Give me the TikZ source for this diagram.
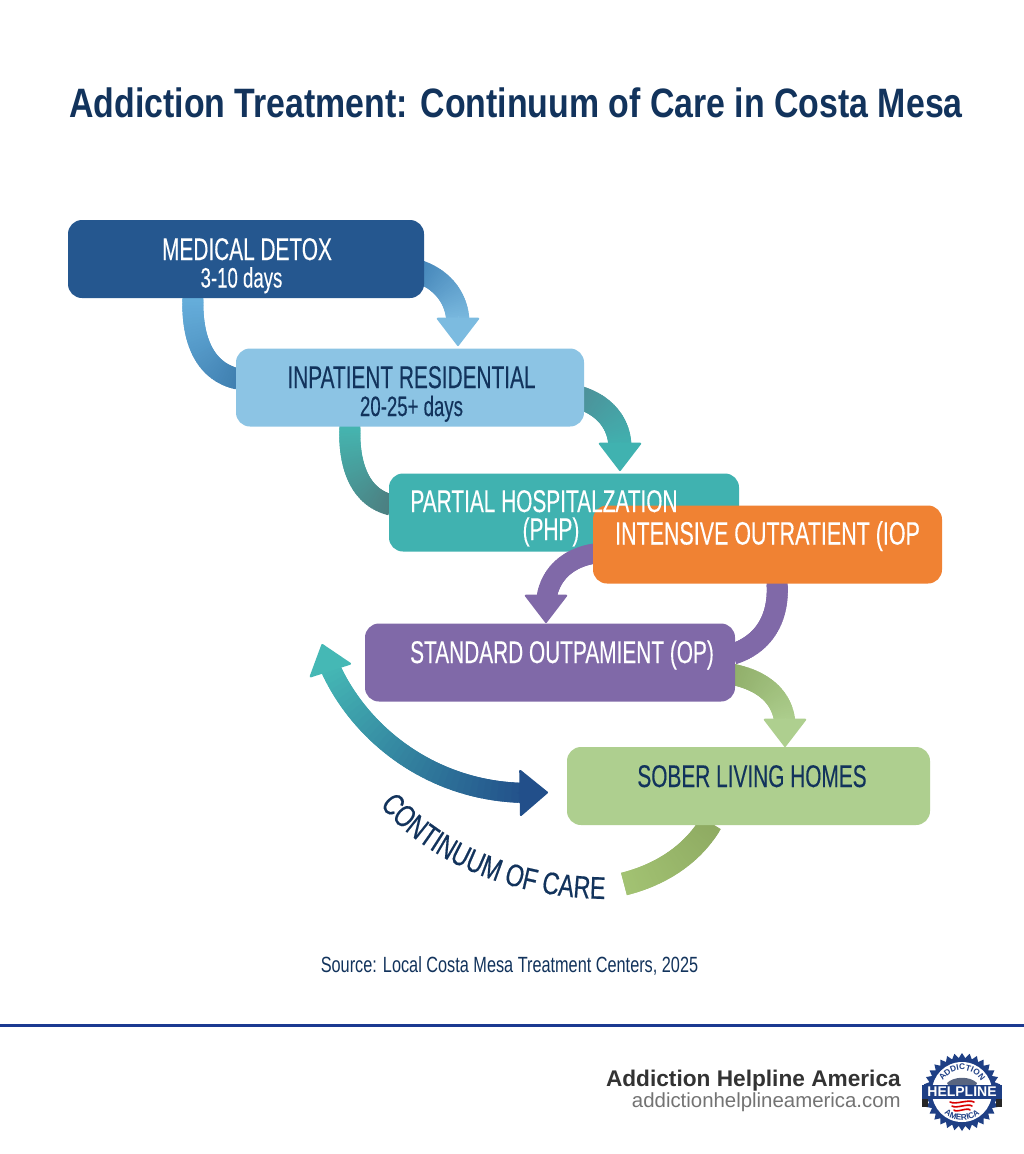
\documentclass[tikz,border=0pt]{standalone}
\usepackage{fontspec}
\usetikzlibrary{calc,arrows.meta,decorations.text}
\setmainfont{Liberation Sans}
\newfontfamily\cond[FakeStretch=0.665,FakeBold=0.25]{Liberation Sans}
\newfontfamily\srcf[FakeStretch=0.74]{Liberation Sans}
\newfontfamily\capf[FakeStretch=0.74,FakeBold=0.5]{Liberation Sans}
\newfontfamily\titlef[FakeStretch=0.825]{Liberation Sans}
\definecolor{navy}{HTML}{12335C}
\definecolor{cdetox}{HTML}{25578F}
\definecolor{cinpat}{HTML}{8CC4E4}
\definecolor{cphp}{HTML}{40B2B0}
\definecolor{ciop}{HTML}{F08233}
\definecolor{cop}{HTML}{8069A8}
\definecolor{csober}{HTML}{AECF8F}
\definecolor{logob}{HTML}{1E3F85}
\definecolor{ra}{HTML}{4384B8}
\definecolor{rb}{HTML}{7CBBE0}
\definecolor{rc}{HTML}{66AEDB}
\definecolor{rd}{HTML}{3F7FB0}
\definecolor{re}{HTML}{4E8F98}
\definecolor{rf}{HTML}{45B5B0}
\definecolor{rg}{HTML}{4C7E80}
\definecolor{rh}{HTML}{8FAD68}
\definecolor{ri}{HTML}{8FAB62}
\definecolor{rj}{HTML}{A3C373}
\definecolor{rk}{HTML}{45B8B5}
\definecolor{rl}{HTML}{224F8A}
\tikzset{
  x=0.75pt,y=-0.75pt,
  stage/.style={rounded corners=10.5pt,minimum height=58.5pt,inner sep=0pt,minimum width=#1*0.75pt},
  big/.style={anchor=base,inner sep=0pt,font=\cond\fontsize{23.5}{26}\selectfont},
  small/.style={anchor=base,inner sep=0pt,font=\cond\fontsize{21}{24}\selectfont},
}
% \ribbon{start}{c1}{c2}{end}{width}{col1}{col2}: ribbon with a colour run, node to node
\newcommand{\ribbon}[7]{%
  \path (#1) .. controls (#2) and (#3) .. (#4)
    \foreach \k in {0,...,40}{ coordinate[pos=\k/40] (rb\k) };
  \foreach \k [evaluate=\k as \nx using {int(min(\k+2,40))}, evaluate=\k as \pc using {100-\k*2.5}] in {0,...,39}{
    \draw[line width=#5*0.75pt,color=#6!\pc!#7] (rb\k) -- (rb\nx);
  }%
}
\newcommand{\head}[4]{% from, to(tip), width px, colour
  \draw[line width=0.5pt,color=#4,-{Triangle[width=#3*0.75pt,length=29*0.75pt,round,line width=1.5pt]}] (#1) -- (#2);
}
\begin{document}
\begin{tikzpicture}
\useasboundingbox (0,0) rectangle (1024,1154);
\fill[white] (0,0) rectangle (1024,1154);
\node[font=\titlef\bfseries\fontsize{30.8}{33}\selectfont,text=navy] (title) at (516,103) {Addiction Treatment: Continuum of Care in Costa Mesa};

\coordinate (detoxC) at (246,259);
\coordinate (inpatC) at (410,387.5);
\coordinate (phpC) at (564,512.5);
\coordinate (iopC) at (767.5,544.5);
\coordinate (opC) at (550,662.5);
\coordinate (soberC) at (748.5,786);

% connectors behind the boxes
\ribbon{414,270}{440,277}{457,296}{458,322}{23}{ra}{rb}
\head{458,316}{458,346}{44}{rb}
\ribbon{193,296}{191,340}{205,372}{238,379}{21}{rc}{rd}
\ribbon{574,396}{600,402}{620,420}{620,448}{23}{re}{cphp}
\head{620,442}{620,471}{44}{cphp}
\ribbon{350,425}{348,462}{358,497}{391,505}{21}{rf}{rg}
\ribbon{725,673}{760,678}{783,695}{785,724}{21}{rh}{csober}
\head{785,718}{785,747}{44}{csober}
\ribbon{711,823}{692,855}{660,875}{624,884}{23}{ri}{rj}

\node[stage=356,fill=cdetox] (detox) at (detoxC) {};
\node[stage=348,fill=cinpat] (inpat) at (inpatC) {};
\node[stage=350,fill=cphp] (php) at (phpC) {};
\ribbon{600,553}{572,555}{548,572}{546,603}{20}{cop}{cop}
\head{546,597}{546,623}{44}{cop}
\ribbon{777,582}{780,620}{762,645}{733,654}{21}{cop}{cop}
\node[stage=349,fill=ciop] (iop) at (iopC) {};
\node[stage=370,fill=cop] (op) at (opC) {};
\node[stage=363,fill=csober] (sober) at (soberC) {};

\node[big,text=white] (t1) at (247,260) {MEDICAL DETOX};
\node[small,text=white] (t1b) at (241.5,287.5) {3-10 days};
\node[big,text=navy] (t2) at (411.5,388) {INPATIENT RESIDENTIAL};
\node[small,text=navy] (t2b) at (411.5,416) {20-25+ days};
\node[big,text=white] (t3) at (544,512) {PARTIAL HOSPITALZATION};
\node[big,text=white] (t3b) at (551,540) {(PHP)};
\node[big,text=white,font=\cond\fontsize{24.2}{26}\selectfont] (t4) at (767.5,544.5) {INTENSIVE OUTRATIENT (IOP};
\node[big,text=white] (t5) at (562,663) {STANDARD OUTPAMIENT (OP)};
\node[big,text=navy] (t6) at (752,787) {SOBER LIVING HOMES};

% long double arrow
\coordinate (dbA) at (331,672);
\coordinate (dbB) at (517,793);
\coordinate (dbAt) at (322,644);
\coordinate (dbBt) at (548,792.5);
\coordinate (dbAi) at (329,665);
\coordinate (dbBi) at (526,793);
\ribbon{dbAi}{358,732}{430,792}{dbBi}{20}{rk}{rl}
\head{dbA}{dbAt}{45}{rk}
\head{dbB}{dbBt}{48}{rl}

% curved caption
\path[decorate,decoration={text along path,text align=center,text={|\capf\fontsize{23.5}{26}\selectfont\color{navy}|CONTINUUM OF CARE}}]
  (378,803) .. controls (420,855) and (500,898) .. (608,899);

\node[font=\srcf\fontsize{16.5}{20}\selectfont,text=navy] (src) at (509.5,966) {Source: Local Costa Mesa Treatment Centers, 2025};

% footer
\fill[color=logob!90!blue] (0,1024) rectangle (1024,1027);
\node[anchor=base east,inner sep=0pt,font=\bfseries\fontsize{17}{20}\selectfont,text=black!80] (brand) at (901,1086) {Addiction Helpline America};
\node[anchor=base east,inner sep=0pt,font=\fontsize{15.3}{18}\selectfont,text=black!55] (url) at (901,1107) {addictionhelplineamerica.com};

% logo
\begin{scope}[shift={(962,1092)}]
  \fill[logob] (0:39) \foreach \a in {1,...,32}{ -- ({\a*11.25-5.625}:34) -- ({\a*11.25}:39) } -- cycle;
  \fill[white] (0,0) circle[radius=30];
  \fill[black!45!logob!70] (-15,-9) .. controls (-8,-16) and (8,-16) .. (15,-9) -- (14,-7) -- (-14,-7) -- cycle;
  \foreach \yy in {10,14,18}{
    \draw[red!85!black,line width=1.2pt,line cap=round] (-17+\yy/2,\yy) .. controls (-6,\yy+3) and (6,\yy-3) .. (17-\yy/2,\yy);
  }
  \fill[black!85] (-40,6) rectangle (-34,15);
  \fill[black!85] (34,6) rectangle (40,15);
  \fill[logob] (-40,-7) rectangle (40,7);
  \node[font=\bfseries\fontsize{10.5}{12}\selectfont,text=white,inner sep=0pt] (logoh) at (0,0) {HELPLINE};
  \path[decorate,decoration={text along path,text align=center,text={|\bfseries\fontsize{6.2}{7}\selectfont\color{logob}|ADDICTION}}]
    (-21.25,-5.7) arc[start angle=195,end angle=345,radius=22];
  \path[decorate,decoration={text along path,text align=center,text={|\bfseries\fontsize{6.2}{7}\selectfont\color{logob}|AMERICA}}]
    (-25.4,11.8) arc[start angle=155,end angle=25,radius=28];
\end{scope}
\end{tikzpicture}
\end{document}
